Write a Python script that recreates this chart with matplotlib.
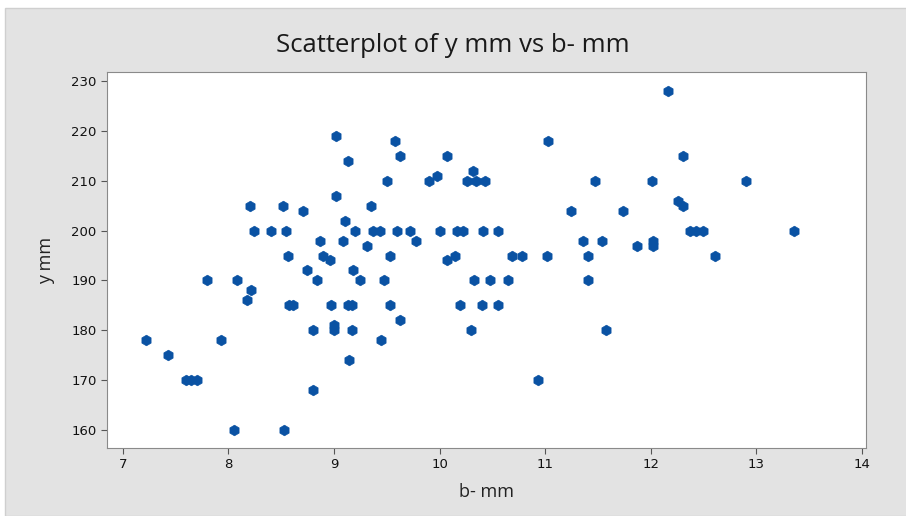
import matplotlib.pyplot as plt
from matplotlib.patches import Rectangle

# b- mm (x) and y mm (y)
b_mm = [7.22, 7.43, 7.6, 7.65, 7.7, 7.8, 7.93, 8.05, 8.08, 8.18, 8.21,
        8.2, 8.52, 8.71, 8.24, 8.4, 8.55, 8.53, 8.56, 8.57, 8.61,
        8.74, 8.8, 8.8, 8.84, 8.87, 8.9, 8.96, 8.97, 9.0, 9.0,
        9.02, 9.02, 9.09, 9.1, 9.13, 9.13, 9.17, 9.14, 9.17, 9.18,
        9.2, 9.25, 9.31, 9.35, 9.37, 9.44, 9.45, 9.47, 9.5, 9.53,
        9.53, 9.58, 9.6, 9.63, 9.63, 9.72, 9.78, 9.9, 9.98, 10.0,
        10.07, 10.07, 10.15, 10.17, 10.19, 10.22, 10.26, 10.3, 10.32, 10.33,
        10.35, 10.4, 10.41, 10.43, 10.48, 10.55, 10.55, 10.65, 10.69, 10.78,
        10.93, 11.02, 11.03, 11.25, 11.36, 11.41, 11.41, 11.47, 11.54, 11.58,
        11.74, 11.87, 12.01, 12.02, 12.02, 12.16, 12.26, 12.31, 12.31, 12.37,
        12.43, 12.5, 12.61, 12.9, 13.36]
y_mm = [178, 175, 170, 170, 170, 190, 178, 160, 190, 186, 188,
        205, 205, 204, 200, 200, 200, 160, 195, 185, 185,
        192, 180, 168, 190, 198, 195, 194, 185, 181, 180,
        219, 207, 198, 202, 214, 185, 185, 174, 180, 192,
        200, 190, 197, 205, 200, 200, 178, 190, 210, 195,
        185, 218, 200, 215, 182, 200, 198, 210, 211, 200,
        215, 194, 195, 200, 185, 200, 210, 180, 212, 190,
        210, 185, 200, 210, 190, 200, 185, 190, 195, 195,
        170, 195, 218, 204, 198, 195, 190, 210, 198, 180,
        204, 197, 210, 198, 197, 228, 206, 215, 205, 200,
        200, 200, 195, 210, 200]

x_ticks = [7, 8, 9, 10, 11, 12, 13, 14]
y_ticks = [160, 170, 180, 190, 200, 210, 220, 230]

fig = plt.figure(figsize=(9.06, 5.16), dpi=100, facecolor='white')
# grey panel behind the chart (Minitab style)
fig.patches.append(Rectangle((5 / 906, 0), 1, 1 - 8 / 516, transform=fig.transFigure,
                             facecolor='#e3e3e3', edgecolor='#cfcfcf', linewidth=1, zorder=-10))

ax = fig.add_axes([107 / 906, 1 - 448 / 516, (866 - 107) / 906, (448 - 72) / 516])
ax.set_facecolor('white')
ax.scatter(b_mm, y_mm, s=58, marker='h', color='#0a52a3', edgecolors='#0a52a3', linewidths=0.5, zorder=3)

ax.set_xlim(6.85, 14.04)
ax.set_ylim(156.4, 231.8)
ax.set_xticks(x_ticks)
ax.set_yticks(y_ticks)
ax.tick_params(labelsize=9.5, length=4, color='#555555', labelcolor='#111111')
for s in ax.spines.values():
    s.set_color('#8a8a8a')

ax.set_xlabel('b- mm', fontsize=13, family='Open Sans', color='#222222', labelpad=8)
ax.set_ylabel('y mm', fontsize=13, family='Open Sans', color='#222222', labelpad=12)
fig.text(0.5, 1 - 45 / 516, 'Scatterplot of y mm vs b- mm', ha='center', va='center',
         fontsize=18.5, family='Open Sans', color='#1a1a1a')

fig.savefig('out.png', dpi=100)
